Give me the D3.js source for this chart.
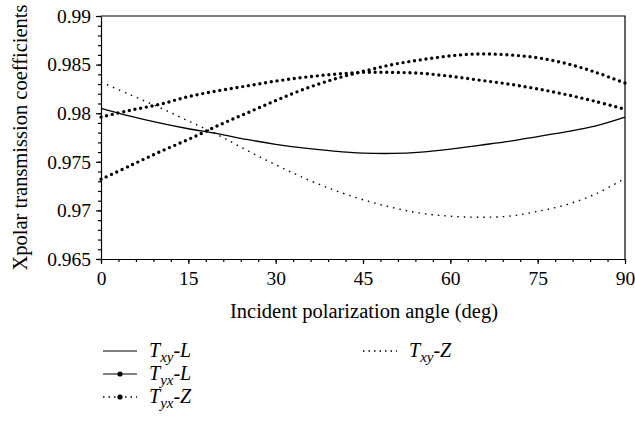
<!DOCTYPE html>
<html><head><meta charset="utf-8">
<script src="https://cdn.jsdelivr.net/npm/d3@7"></script>
<style>
body{margin:0;background:#fff}
svg{display:block}
text{font-family:"Liberation Serif","Times New Roman",serif;fill:#000}
</style>
</head><body>
<svg id="c" width="635" height="426"></svg>
<script>
// ---- data ----
const angles = [0,5,10,15,20,25,30,35,40,45,50,55,60,65,70,75,80,85,90];
const txyL = [0.9805,0.9797,0.9790,0.9784,0.9779,0.9773,0.9768,0.9764,0.9761,0.9759,0.97586,0.9760,0.9763,0.9767,0.9771,0.9776,0.9781,0.9787,0.9796];
const tyxL = [0.9796,0.9803,0.9809,0.9817,0.9823,0.9828,0.9833,0.9837,0.9840,0.9842,0.9842,0.9841,0.9838,0.9834,0.9830,0.9825,0.9819,0.9812,0.9804];
const tyxZ = [0.9732,0.9746,0.9760,0.9773,0.9787,0.9800,0.9813,0.9825,0.9835,0.9843,0.9850,0.9855,0.9859,0.9861,0.9860,0.9857,0.9851,0.9842,0.9831];
const txyZ = [0.9832,0.9819,0.9806,0.9792,0.9778,0.9762,0.9747,0.9733,0.9721,0.9711,0.9703,0.9697,0.9694,0.9693,0.9694,0.9699,0.9706,0.9717,0.9733];
const xTicks = [0,15,30,45,60,75,90];
const yTicks = [0.965,0.97,0.975,0.98,0.985,0.99];
const yTickLabels = ["0.965","0.97","0.975","0.98","0.985","0.99"];
const seriesNames = [["T","xy","-L"],["T","yx","-L"],["T","yx","-Z"],["T","xy","-Z"]];
const xTitle = "Incident polarization angle (deg)";
const yTitle = "Xpolar transmission coefficients";

// ---- layout ----
const L = 101, R = 625, T = 16, B = 259;
const svg = d3.select("#c");
const x = d3.scaleLinear().domain([0,90]).range([L,R]);
const y = d3.scaleLinear().domain([0.965,0.99]).range([B,T]);

// minor ticks
const xMinor = d3.range(0,91,3);
const yMinor = d3.range(0,26).map(i=>+(0.965+i*0.001).toFixed(3));

const ax = svg.append("g");
ax.append("g").attr("transform",`translate(0,${B})`)
  .call(d3.axisBottom(x).tickValues(xMinor).tickSize(3).tickFormat(""))
  .call(g=>g.select(".domain").remove());
ax.append("g").attr("transform",`translate(${L},0)`)
  .call(d3.axisLeft(y).tickValues(yMinor).tickSize(3).tickFormat(""))
  .call(g=>g.select(".domain").remove());
const gx = ax.append("g").attr("transform",`translate(0,${B})`)
  .call(d3.axisBottom(x).tickValues(xTicks).tickSize(5).tickPadding(7).tickSizeOuter(0));
gx.selectAll("text").attr("font-size",19.5).attr("font-family",null);
const gy = ax.append("g").attr("transform",`translate(${L},0)`)
  .call(d3.axisLeft(y).tickValues(yTicks).tickSize(5).tickPadding(5).tickSizeOuter(0)
    .tickFormat((d,i)=>yTickLabels[i]));
gy.selectAll("text").attr("font-size",19.5).attr("font-family",null);
ax.selectAll("line,path").attr("stroke","#000").attr("stroke-width",1.2);
// box top/right
svg.append("path").attr("d",`M${L},${T}H${R}V${B}`).attr("fill","none").attr("stroke","#000").attr("stroke-width",1.2);

// titles
svg.append("text").attr("x",(L+R)/2+1).attr("y",318).attr("text-anchor","middle").attr("font-size",20.5).text(xTitle);
svg.append("text").attr("transform",`translate(27,${(T+B)/2}) rotate(-90)`).attr("text-anchor","middle").attr("font-size",20.5).text(yTitle);

// lines
const line = d3.line().x((d,i)=>x(angles[i])).y(d=>y(d)).curve(d3.curveCatmullRom);
const plot = svg.append("g");
plot.append("path").datum(txyL).attr("d",line).attr("fill","none").attr("stroke","#000").attr("stroke-width",1.3);
plot.append("path").datum(txyZ).attr("d",line).attr("fill","none").attr("stroke","#000").attr("stroke-width",1.4)
  .attr("stroke-dasharray","1.5 5");
[tyxL,tyxZ].forEach(s=>{
  plot.append("path").datum(s).attr("d",line).attr("fill","none").attr("stroke","#000").attr("stroke-width",3.4)
    .attr("stroke-linecap","round").attr("stroke-dasharray","0 5.8");
});

// legend
const legRows = [
  {x:103, y:351, name:seriesNames[0], type:"solid"},
  {x:103, y:374, name:seriesNames[1], type:"solidDot"},
  {x:103, y:397, name:seriesNames[2], type:"dotDot"},
  {x:363, y:351, name:seriesNames[3], type:"dot"}
];
const lg = svg.append("g");
legRows.forEach(r=>{
  const g = lg.append("g");
  const x0=r.x, x1=r.x+34;
  const ln = g.append("line").attr("x1",x0).attr("x2",x1).attr("y1",r.y).attr("y2",r.y).attr("stroke","#000").attr("stroke-width",1.2);
  if(r.type==="dot"||r.type==="dotDot") ln.attr("stroke-dasharray","1.5 4").attr("stroke-width",1.4);
  if(r.type==="solidDot"||r.type==="dotDot") g.append("circle").attr("cx",(x0+x1)/2).attr("cy",r.y).attr("r",2.6).attr("fill","#000");
  const t = g.append("text").attr("x",x1+12).attr("y",r.y+6).attr("font-size",20).attr("font-style","italic");
  t.append("tspan").text(r.name[0]);
  t.append("tspan").attr("font-size",15).attr("dy",5).text(r.name[1]);
  t.append("tspan").attr("dy",-5).text(r.name[2]);
});
</script>
</body></html>
